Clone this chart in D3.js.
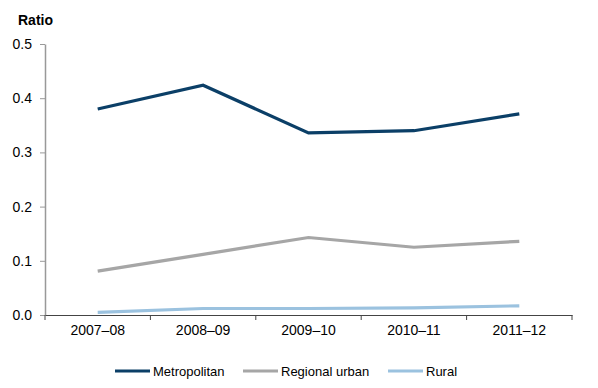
<!DOCTYPE html>
<html>
<head>
<meta charset="utf-8">
<script src="https://cdn.jsdelivr.net/npm/d3@7"></script>
<style>
  body { margin: 0; background: #fff; }
  text { font-family: "Liberation Sans", Arial, sans-serif; }
</style>
</head>
<body>
<div class="canvas"></div>
<script>
const years = ["2007–08", "2008–09", "2009–10", "2010–11", "2011–12"];
const metropolitan = [0.380, 0.424, 0.336, 0.340, 0.371];
const regionalUrban = [0.081, 0.112, 0.143, 0.125, 0.136];
const rural = [0.005, 0.012, 0.012, 0.013, 0.017];
const yTicks = [0, 0.1, 0.2, 0.3, 0.4, 0.5];

const series = [
    { name: "Metropolitan", values: metropolitan, color: "#0b3f67" },
    { name: "Regional urban", values: regionalUrban, color: "#a6a6a6" },
    { name: "Rural", values: rural, color: "#9bc2df" },
];

const dims = { width: 598, height: 388 };
const margin = { top: 44, right: 26, bottom: 73, left: 45 };

const svg = d3
    .select(".canvas")
    .append("svg")
    .attr("width", dims.width)
    .attr("height", dims.height);

const x = d3
    .scaleBand()
    .domain(years)
    .range([margin.left, dims.width - margin.right]);

const y = d3
    .scaleLinear()
    .domain([0, 0.5])
    .range([dims.height - margin.bottom, margin.top]);

// y axis
const yAxis = svg
    .append("g")
    .attr("transform", `translate(${margin.left},0)`)
    .call(
        d3.axisLeft(y)
            .tickValues(yTicks)
            .tickFormat(d3.format(".1f"))
            .tickSize(5)
            .tickSizeOuter(0)
            .tickPadding(8)
    );
yAxis.select(".domain").attr("stroke", "#999").attr("stroke-width", 1.5);
yAxis.selectAll(".tick line").attr("stroke", "#999");
yAxis.selectAll("text").attr("font-size", 14).attr("fill", "#000");

// x axis
const xAxis = svg
    .append("g")
    .attr("transform", `translate(0,${y(0)})`)
    .call(d3.axisBottom(x).tickSize(0).tickPadding(10));
xAxis.select(".domain").attr("stroke", "#444");
xAxis.selectAll(".tick line").remove();
xAxis.selectAll("text").attr("font-size", 14).attr("fill", "#000");
xAxis
    .selectAll(".sep")
    .data(years.concat(["end"]))
    .enter()
    .append("line")
    .attr("x1", (d, i) => margin.left + i * x.step())
    .attr("x2", (d, i) => margin.left + i * x.step())
    .attr("y1", 0)
    .attr("y2", 5)
    .attr("stroke", "#444");

svg.append("text")
    .attr("x", 18)
    .attr("y", 25)
    .attr("font-size", 14)
    .attr("font-weight", "bold")
    .text("Ratio");

const line = d3
    .line()
    .x((d, i) => x(years[i]) + x.bandwidth() / 2)
    .y((d) => y(d));

svg.selectAll(".series")
    .data(series)
    .enter()
    .append("path")
    .attr("fill", "none")
    .attr("stroke", (d) => d.color)
    .attr("stroke-width", 3.2)
    .attr("d", (d) => line(d.values));

// legend
const legendX = [115, 243, 388];
const legend = svg
    .selectAll(".legend")
    .data(series)
    .enter()
    .append("g")
    .attr("transform", (d, i) => `translate(${legendX[i]},371)`);
legend.append("line")
    .attr("x1", 0)
    .attr("x2", 35)
    .attr("stroke", (d) => d.color)
    .attr("stroke-width", 3.2);
legend.append("text")
    .attr("x", 38)
    .attr("y", 4.5)
    .attr("font-size", 13)
    .text((d) => d.name);
</script>
</body>
</html>
